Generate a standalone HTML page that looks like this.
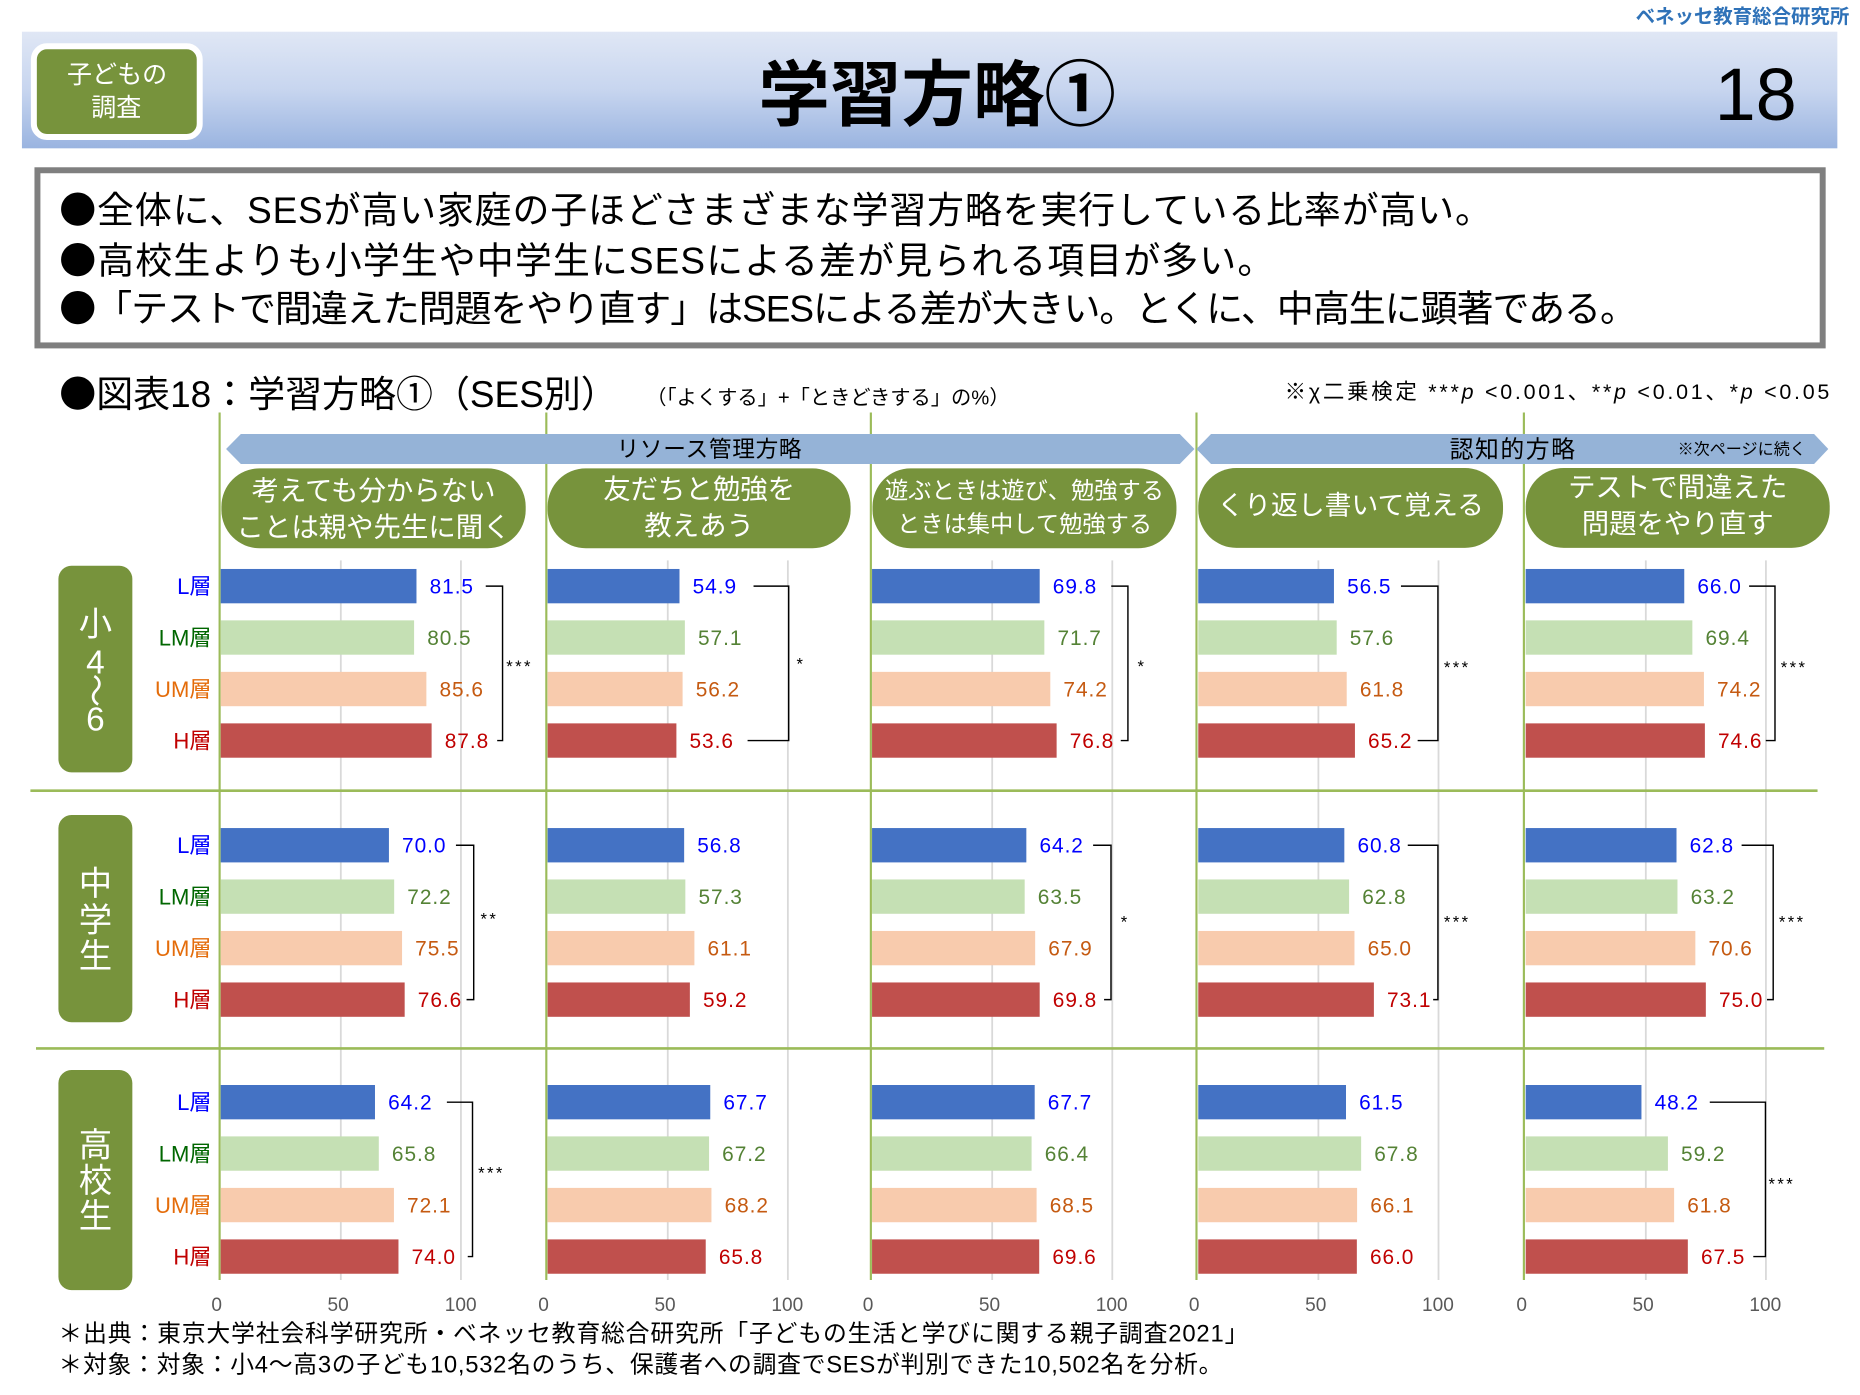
<!DOCTYPE html>
<html><head><meta charset="utf-8"><style>
html,body{margin:0;padding:0;background:#fff;}
body{width:1860px;height:1395px;overflow:hidden;}
svg{display:block;font-family:"Liberation Sans","Noto Sans CJK JP",sans-serif;}
.j{font-family:"Noto Sans CJK JP",sans-serif;}
.b0{fill:#4472c4}.b1{fill:#c5e0b4}.b2{fill:#f8cbad}.b3{fill:#c0504d}
.v{font-size:17.5px;letter-spacing:0.8px}
.v0{fill:#0000ff}.v1{fill:#548235}.v2{fill:#c55a11}.v3{fill:#c00000}
.rl{font-size:18.5px;text-anchor:end}
.pill{fill:#77933c}
.pt{fill:#fff;text-anchor:middle}
.gl{stroke:#9bbb59;stroke-width:1.8}
.gr{stroke:#d9d9d9;stroke-width:1.5}
.br{fill:none;stroke:#000;stroke-width:1.2}
.st{font-size:14px;letter-spacing:2px;fill:#000}
.ax{font-size:16px;fill:#595959;text-anchor:middle}
.gt{fill:#fff;text-anchor:middle;font-size:28px}
</style></head><body>
<svg width="1860" height="1395" viewBox="0 0 1560 1170" xmlns="http://www.w3.org/2000/svg">
<defs>
<linearGradient id="hg" x1="0" y1="0" x2="0" y2="1">
<stop offset="0" stop-color="#e0e7f5"/><stop offset="0.5" stop-color="#c7d5ef"/><stop offset="1" stop-color="#9ab4e0"/>
</linearGradient>
</defs>
<rect x="0" y="0" width="1560" height="1170" fill="#fff"/>
<!-- brand -->
<text x="1551" y="19.2" font-size="16.3" font-weight="700" fill="#2f72b8" text-anchor="end">ベネッセ教育総合研究所</text>
<!-- header band -->
<rect x="18.4" y="26.6" width="1522.6" height="97.8" fill="url(#hg)"/>
<rect x="28.4" y="38.8" width="139.1" height="76.1" rx="11" fill="#77933c" stroke="#fff" stroke-width="5"/>
<text x="98.2" y="69.6" font-size="21" fill="#fff" text-anchor="middle">子どもの</text>
<text x="97.5" y="97.1" font-size="21" fill="#fff" text-anchor="middle">調査</text>
<text x="786" y="100.5" font-size="60" font-weight="700" fill="#000" text-anchor="middle">学習方略①</text>
<text x="1507" y="100.5" font-size="62" fill="#000" text-anchor="end">18</text>
<!-- summary box -->
<rect x="31.4" y="142.8" width="1497.3" height="146.9" fill="#fff" stroke="#7f7f7f" stroke-width="5"/>
<text x="49.7" y="187.2" font-size="31" letter-spacing="0.7"><tspan class="j">●</tspan>全体に、SESが高い家庭の子ほどさまざまな学習方略を実行している比率が高い。</text>
<text x="49.7" y="229.2" font-size="31" letter-spacing="0.9"><tspan class="j">●</tspan>高校生よりも小学生や中学生にSESによる差が見られる項目が多い。</text>
<text x="49.7" y="269.8" font-size="31" letter-spacing="-0.85"><tspan class="j">●</tspan>「テストで間違えた問題をやり直す」はSESによる差が大きい。とくに、中高生に顕著である。</text>
<!-- chart title -->
<text x="49.7" y="341.2" font-size="31"><tspan class="j">●</tspan>図表18：学習方略①（SES別）</text>
<text x="542" y="339.1" font-size="17">（「よくする」+「ときどきする」の%）</text>
<text x="1536.6" y="334.8" font-size="18" letter-spacing="2.3" text-anchor="end">※χ二乗検定 ***<tspan font-style="italic">p</tspan> &lt;0.001、**<tspan font-style="italic">p</tspan> &lt;0.01、*<tspan font-style="italic">p</tspan> &lt;0.05</text>

<!-- gridlines -->
<g class="gr">
<line x1="285.85" y1="470" x2="285.85" y2="1073.6"/><line x1="386.6" y1="470" x2="386.6" y2="1073.6"/>
<line x1="560.05" y1="470" x2="560.05" y2="1073.6"/><line x1="660.8" y1="470" x2="660.8" y2="1073.6"/>
<line x1="832.15" y1="470" x2="832.15" y2="1073.6"/><line x1="932.9" y1="470" x2="932.9" y2="1073.6"/>
<line x1="1105.75" y1="470" x2="1105.75" y2="1073.6"/><line x1="1206.5" y1="470" x2="1206.5" y2="1073.6"/>
<line x1="1380.35" y1="470" x2="1380.35" y2="1073.6"/><line x1="1481.1" y1="470" x2="1481.1" y2="1073.6"/>
</g>
<!-- green verticals and dividers -->
<g class="gl">
<line x1="184.2" y1="346" x2="184.2" y2="1073.6"/>
<line x1="458.2" y1="346" x2="458.2" y2="1073.6"/>
<line x1="730.4" y1="346" x2="730.4" y2="1073.6"/>
<line x1="1003.5" y1="346" x2="1003.5" y2="1073.6"/>
<line x1="1278.1" y1="346" x2="1278.1" y2="1073.6"/>
<line x1="25.5" y1="663.2" x2="1524.4" y2="663.2" stroke-width="2.2"/>
<line x1="30.2" y1="879.3" x2="1530" y2="879.3" stroke-width="2.2"/>
</g>

<!-- arrows -->
<polygon points="189.6,376.6 202,364 989.5,364 1001.8,376.6 989.5,389.2 202,389.2" fill="#95b3d7"/>
<polygon points="1003.5,376.6 1015.7,364 1521.5,364 1533.4,376.6 1521.5,389.2 1015.7,389.2" fill="#95b3d7"/>
<text x="595" y="383.4" font-size="19" letter-spacing="0.6" text-anchor="middle">リソース管理方略</text>
<text x="1269" y="383.8" font-size="20" letter-spacing="1.3" text-anchor="middle">認知的方略</text>
<text x="1407" y="381.3" font-size="13.5">※次ページに続く</text>

<!-- pills -->
<rect class="pill" x="185.7" y="392.8" width="255.2" height="67" rx="32"/>
<rect class="pill" x="459.3" y="392.8" width="254.1" height="67" rx="32"/>
<rect class="pill" x="731.8" y="392.8" width="254.9" height="67" rx="32"/>
<rect class="pill" x="1005" y="392.5" width="255.6" height="67" rx="32"/>
<rect class="pill" x="1279.6" y="392.5" width="255" height="67" rx="32"/>
<text class="pt" x="313.3" y="419.3" font-size="23">考えても分からない</text>
<text class="pt" x="313.3" y="450" font-size="23">ことは親や先生に聞く</text>
<text class="pt" x="586.4" y="418" font-size="23">友だちと勉強を</text>
<text class="pt" x="586.4" y="448.7" font-size="23">教えあう</text>
<text class="pt" x="859.3" y="418" font-size="19.5">遊ぶときは遊び、勉強する</text>
<text class="pt" x="859.3" y="446" font-size="19.5">ときは集中して勉強する</text>
<text class="pt" x="1132.8" y="431.7" font-size="22.5">くり返し書いて覚える</text>
<text class="pt" x="1407.1" y="416.5" font-size="23">テストで間違えた</text>
<text class="pt" x="1407.1" y="447.2" font-size="23">問題をやり直す</text>

<!-- group boxes -->
<rect x="49" y="474.5" width="62" height="173.3" rx="11" fill="#77933c"/>
<rect x="49" y="683.6" width="62" height="173.8" rx="11" fill="#77933c"/>
<rect x="49" y="897.4" width="62" height="184.6" rx="11" fill="#77933c"/>
<text class="gt" x="80" y="532.8">小</text>
<text class="gt" x="80" y="565">4</text>
<text class="gt" x="80" y="588.8" transform="rotate(90 80 579)">～</text>
<text class="gt" x="80" y="612.6">6</text>
<text class="gt" x="80" y="750.6" font-size="29">中</text>
<text class="gt" x="80" y="781.4" font-size="29">学</text>
<text class="gt" x="80" y="811.4" font-size="29">生</text>
<text class="gt" x="80" y="969.9" font-size="29">高</text>
<text class="gt" x="80" y="999.9" font-size="29">校</text>
<text class="gt" x="80" y="1029.4" font-size="29">生</text>

<!-- row labels -->
<g class="rl">
<text x="177.3" y="498.2" fill="#0000ff">L層</text>
<text x="177.3" y="541.3" fill="#006600">LM層</text>
<text x="177.3" y="584.5" fill="#e46c0a">UM層</text>
<text x="177.3" y="627.7" fill="#c00000">H層</text>
<text x="177.3" y="715.5" fill="#0000ff">L層</text>
<text x="177.3" y="758.6" fill="#006600">LM層</text>
<text x="177.3" y="801.8" fill="#e46c0a">UM層</text>
<text x="177.3" y="845.0" fill="#c00000">H層</text>
<text x="177.3" y="931.0" fill="#0000ff">L層</text>
<text x="177.3" y="974.1" fill="#006600">LM層</text>
<text x="177.3" y="1017.3" fill="#e46c0a">UM層</text>
<text x="177.3" y="1060.5" fill="#c00000">H層</text>
</g>

<!-- bars row 0 -->
<rect class="b0" x="185.1" y="477.2" width="164.2" height="28.8"/>
<rect class="b1" x="185.1" y="520.3" width="162.2" height="28.8"/>
<rect class="b2" x="185.1" y="563.5" width="172.5" height="28.8"/>
<rect class="b3" x="185.1" y="606.7" width="176.9" height="28.8"/>
<rect class="b0" x="459.3" y="477.2" width="110.6" height="28.8"/>
<rect class="b1" x="459.3" y="520.3" width="115.1" height="28.8"/>
<rect class="b2" x="459.3" y="563.5" width="113.2" height="28.8"/>
<rect class="b3" x="459.3" y="606.7" width="108.0" height="28.8"/>
<rect class="b0" x="731.4" y="477.2" width="140.6" height="28.8"/>
<rect class="b1" x="731.4" y="520.3" width="144.5" height="28.8"/>
<rect class="b2" x="731.4" y="563.5" width="149.5" height="28.8"/>
<rect class="b3" x="731.4" y="606.7" width="154.8" height="28.8"/>
<rect class="b0" x="1005" y="477.2" width="113.8" height="28.8"/>
<rect class="b1" x="1005" y="520.3" width="116.1" height="28.8"/>
<rect class="b2" x="1005" y="563.5" width="124.5" height="28.8"/>
<rect class="b3" x="1005" y="606.7" width="131.4" height="28.8"/>
<rect class="b0" x="1279.6" y="477.2" width="133.0" height="28.8"/>
<rect class="b1" x="1279.6" y="520.3" width="139.8" height="28.8"/>
<rect class="b2" x="1279.6" y="563.5" width="149.5" height="28.8"/>
<rect class="b3" x="1279.6" y="606.7" width="150.3" height="28.8"/>
<!-- bars row 1 -->
<rect class="b0" x="185.1" y="694.5" width="141.1" height="28.8"/>
<rect class="b1" x="185.1" y="737.6" width="145.5" height="28.8"/>
<rect class="b2" x="185.1" y="780.8" width="152.1" height="28.8"/>
<rect class="b3" x="185.1" y="824.0" width="154.3" height="28.8"/>
<rect class="b0" x="459.3" y="694.5" width="114.5" height="28.8"/>
<rect class="b1" x="459.3" y="737.6" width="115.5" height="28.8"/>
<rect class="b2" x="459.3" y="780.8" width="123.1" height="28.8"/>
<rect class="b3" x="459.3" y="824.0" width="119.3" height="28.8"/>
<rect class="b0" x="731.4" y="694.5" width="129.4" height="28.8"/>
<rect class="b1" x="731.4" y="737.6" width="128.0" height="28.8"/>
<rect class="b2" x="731.4" y="780.8" width="136.8" height="28.8"/>
<rect class="b3" x="731.4" y="824.0" width="140.6" height="28.8"/>
<rect class="b0" x="1005" y="694.5" width="122.5" height="28.8"/>
<rect class="b1" x="1005" y="737.6" width="126.5" height="28.8"/>
<rect class="b2" x="1005" y="780.8" width="131.0" height="28.8"/>
<rect class="b3" x="1005" y="824.0" width="147.3" height="28.8"/>
<rect class="b0" x="1279.6" y="694.5" width="126.5" height="28.8"/>
<rect class="b1" x="1279.6" y="737.6" width="127.3" height="28.8"/>
<rect class="b2" x="1279.6" y="780.8" width="142.3" height="28.8"/>
<rect class="b3" x="1279.6" y="824.0" width="151.1" height="28.8"/>
<!-- bars row 2 -->
<rect class="b0" x="185.1" y="910" width="129.4" height="28.8"/>
<rect class="b1" x="185.1" y="953.1" width="132.6" height="28.8"/>
<rect class="b2" x="185.1" y="996.3" width="145.3" height="28.8"/>
<rect class="b3" x="185.1" y="1039.5" width="149.1" height="28.8"/>
<rect class="b0" x="459.3" y="910" width="136.4" height="28.8"/>
<rect class="b1" x="459.3" y="953.1" width="135.4" height="28.8"/>
<rect class="b2" x="459.3" y="996.3" width="137.4" height="28.8"/>
<rect class="b3" x="459.3" y="1039.5" width="132.6" height="28.8"/>
<rect class="b0" x="731.4" y="910" width="136.4" height="28.8"/>
<rect class="b1" x="731.4" y="953.1" width="133.8" height="28.8"/>
<rect class="b2" x="731.4" y="996.3" width="138.0" height="28.8"/>
<rect class="b3" x="731.4" y="1039.5" width="140.2" height="28.8"/>
<rect class="b0" x="1005" y="910" width="123.9" height="28.8"/>
<rect class="b1" x="1005" y="953.1" width="136.6" height="28.8"/>
<rect class="b2" x="1005" y="996.3" width="133.2" height="28.8"/>
<rect class="b3" x="1005" y="1039.5" width="133.0" height="28.8"/>
<rect class="b0" x="1279.6" y="910" width="97.1" height="28.8"/>
<rect class="b1" x="1279.6" y="953.1" width="119.3" height="28.8"/>
<rect class="b2" x="1279.6" y="996.3" width="124.5" height="28.8"/>
<rect class="b3" x="1279.6" y="1039.5" width="136.0" height="28.8"/>

<!-- value labels row 0 -->
<g class="v">
<text class="v0" x="360.3" y="497.9">81.5</text>
<text class="v1" x="358.3" y="541.0">80.5</text>
<text class="v2" x="368.6" y="584.2">85.6</text>
<text class="v3" x="373.0" y="627.4">87.8</text>
<text class="v0" x="580.9" y="497.9">54.9</text>
<text class="v1" x="585.4" y="541.0">57.1</text>
<text class="v2" x="583.5" y="584.2">56.2</text>
<text class="v3" x="578.3" y="627.4">53.6</text>
<text class="v0" x="883.0" y="497.9">69.8</text>
<text class="v1" x="886.9" y="541.0">71.7</text>
<text class="v2" x="891.9" y="584.2">74.2</text>
<text class="v3" x="897.2" y="627.4">76.8</text>
<text class="v0" x="1129.8" y="497.9">56.5</text>
<text class="v1" x="1132.1" y="541.0">57.6</text>
<text class="v2" x="1140.5" y="584.2">61.8</text>
<text class="v3" x="1147.4" y="627.4">65.2</text>
<text class="v0" x="1423.6" y="497.9">66.0</text>
<text class="v1" x="1430.4" y="541.0">69.4</text>
<text class="v2" x="1440.1" y="584.2">74.2</text>
<text class="v3" x="1440.9" y="627.4">74.6</text>
<!-- row 1 -->
<text class="v0" x="337.2" y="715.2">70.0</text>
<text class="v1" x="341.6" y="758.3">72.2</text>
<text class="v2" x="348.2" y="801.5">75.5</text>
<text class="v3" x="350.4" y="844.7">76.6</text>
<text class="v0" x="584.8" y="715.2">56.8</text>
<text class="v1" x="585.8" y="758.3">57.3</text>
<text class="v2" x="593.4" y="801.5">61.1</text>
<text class="v3" x="589.6" y="844.7">59.2</text>
<text class="v0" x="871.8" y="715.2">64.2</text>
<text class="v1" x="870.4" y="758.3">63.5</text>
<text class="v2" x="879.2" y="801.5">67.9</text>
<text class="v3" x="883.0" y="844.7">69.8</text>
<text class="v0" x="1138.5" y="715.2">60.8</text>
<text class="v1" x="1142.5" y="758.3">62.8</text>
<text class="v2" x="1147.0" y="801.5">65.0</text>
<text class="v3" x="1163.3" y="844.7">73.1</text>
<text class="v0" x="1417.1" y="715.2">62.8</text>
<text class="v1" x="1417.9" y="758.3">63.2</text>
<text class="v2" x="1432.9" y="801.5">70.6</text>
<text class="v3" x="1441.7" y="844.7">75.0</text>
<!-- row 2 -->
<text class="v0" x="325.5" y="930.7">64.2</text>
<text class="v1" x="328.7" y="973.8">65.8</text>
<text class="v2" x="341.4" y="1017.0">72.1</text>
<text class="v3" x="345.2" y="1060.2">74.0</text>
<text class="v0" x="606.7" y="930.7">67.7</text>
<text class="v1" x="605.7" y="973.8">67.2</text>
<text class="v2" x="607.7" y="1017.0">68.2</text>
<text class="v3" x="602.9" y="1060.2">65.8</text>
<text class="v0" x="878.8" y="930.7">67.7</text>
<text class="v1" x="876.2" y="973.8">66.4</text>
<text class="v2" x="880.4" y="1017.0">68.5</text>
<text class="v3" x="882.6" y="1060.2">69.6</text>
<text class="v0" x="1139.9" y="930.7">61.5</text>
<text class="v1" x="1152.6" y="973.8">67.8</text>
<text class="v2" x="1149.2" y="1017.0">66.1</text>
<text class="v3" x="1149.0" y="1060.2">66.0</text>
<text class="v0" x="1387.7" y="930.7">48.2</text>
<text class="v1" x="1409.9" y="973.8">59.2</text>
<text class="v2" x="1415.1" y="1017.0">61.8</text>
<text class="v3" x="1426.6" y="1060.2">67.5</text>
</g>

<!-- brackets -->
<g class="br">
<path d="M407.4 491.6H421.5V621.1H417"/>
<path d="M632 491.6H661.5V621.1H627"/>
<path d="M932 491.6H946V621.1H940"/>
<path d="M1175 491.6H1206V621.1H1189"/>
<path d="M1467 491.6H1488.7V621.1H1481"/>
<path d="M382.4 708.9H397.3V838.4H391.3"/>
<path d="M916.8 708.9H931.8V838.4H926"/>
<path d="M1180.7 708.9H1206V838.4H1202"/>
<path d="M1460.7 708.9H1487.2V838.4H1482"/>
<path d="M374.8 924.4H396.3V1053.9H392.3"/>
<path d="M1434 924.4H1480.7V1053.9H1470.5"/>
</g>
<g class="st">
<text x="424.6" y="563.5">***</text>
<text x="668" y="561.5">*</text>
<text x="954" y="563.5">*</text>
<text x="1211" y="564.5">***</text>
<text x="1493.5" y="564.5">***</text>
<text x="403" y="775.3">**</text>
<text x="940" y="777.8">*</text>
<text x="1211" y="777.8">***</text>
<text x="1492" y="777.8">***</text>
<text x="401" y="988.5">***</text>
<text x="1483.3" y="997.5">***</text>
</g>

<!-- axis labels -->
<g class="ax">
<text x="181.7" y="1099.7">0</text><text x="283.6" y="1099.7">50</text><text x="386.4" y="1099.7">100</text>
<text x="455.9" y="1099.7">0</text><text x="557.8" y="1099.7">50</text><text x="660.3" y="1099.7">100</text>
<text x="728" y="1099.7">0</text><text x="829.9" y="1099.7">50</text><text x="932.4" y="1099.7">100</text>
<text x="1001.6" y="1099.7">0</text><text x="1103.5" y="1099.7">50</text><text x="1206" y="1099.7">100</text>
<text x="1276.2" y="1099.7">0</text><text x="1378.1" y="1099.7">50</text><text x="1480.6" y="1099.7">100</text>
</g>

<!-- footer -->
<text x="49" y="1125.2" font-size="20" letter-spacing="0.7">＊出典：東京大学社会科学研究所・ベネッセ教育総合研究所「子どもの生活と学びに関する親子調査2021」</text>
<text x="49" y="1151.2" font-size="20" letter-spacing="0.6">＊対象：対象：小4～高3の子ども10,532名のうち、保護者への調査でSESが判別できた10,502名を分析。</text>
</svg>
</body></html>
